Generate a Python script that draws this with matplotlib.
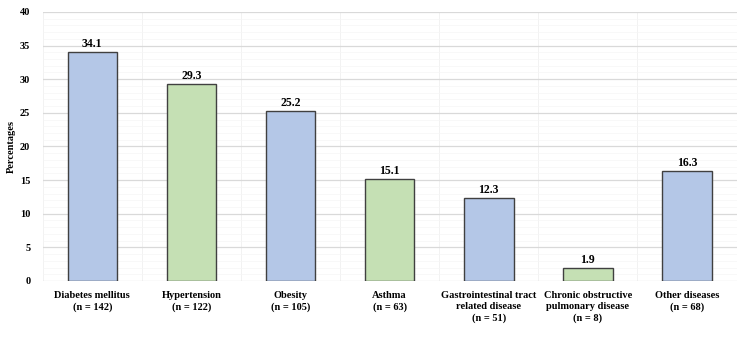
import numpy as np
import matplotlib.pyplot as plt
from matplotlib.ticker import MultipleLocator

categories = ['Diabetes mellitus\n(n = 142)', 'Hypertension\n(n = 122)', 'Obesity\n(n = 105)',
              'Asthma\n(n = 63)', 'Gastrointestinal tract\nrelated disease\n(n = 51)',
              'Chronic obstructive\npulmonary disease\n(n = 8)', 'Other diseases\n(n = 68)']
percentages = [34.1, 29.3, 25.2, 15.1, 12.3, 1.9, 16.3]
colors = ['#b4c7e7', '#c5e0b4', '#b4c7e7', '#c5e0b4', '#b4c7e7', '#c5e0b4', '#b4c7e7']

plt.rcParams['font.family'] = ['Liberation Serif', 'DejaVu Serif']
plt.rcParams['font.weight'] = 'bold'

fig, ax = plt.subplots(figsize=(7.5, 3.41), dpi=100)
fig.subplots_adjust(left=0.057, right=0.982, top=0.965, bottom=0.176)

x = np.arange(len(categories))
bars = ax.bar(x, percentages, width=0.5, color=colors, edgecolor='#404040', linewidth=1.0, zorder=3)
for b, v in zip(bars, percentages):
    ax.text(b.get_x() + b.get_width() / 2, v + 0.3, f'{v:.1f}', ha='center', va='bottom',
            fontsize=8.5, fontweight='bold', zorder=4)

ax.set_xlim(-0.5, len(categories) - 0.5)
ax.set_ylim(0, 40)
ax.yaxis.set_major_locator(MultipleLocator(5))
ax.yaxis.set_minor_locator(MultipleLocator(1))
ax.set_xticks(x)
ax.set_xticklabels(categories, fontsize=7.5, fontweight='bold', va='top', linespacing=1.35)
ax.set_xticks(np.arange(-0.5, len(categories), 1), minor=True)
ax.tick_params(axis='both', which='both', length=0)
ax.tick_params(axis='y', labelsize=7.5, pad=9)
ax.tick_params(axis='x', pad=7)

ax.grid(True, axis='y', which='major', color='#d9d9d9', linewidth=0.9, zorder=0)
ax.grid(True, axis='y', which='minor', color='#f5f5f5', linewidth=0.5, zorder=0)
ax.grid(True, axis='x', which='minor', color='#f0f0f0', linewidth=0.6, zorder=0)
for s in ax.spines.values():
    s.set_visible(False)

ax.set_ylabel('Percentages', fontsize=7.5, fontweight='bold', labelpad=3)

fig.savefig('out.png', dpi=100)
